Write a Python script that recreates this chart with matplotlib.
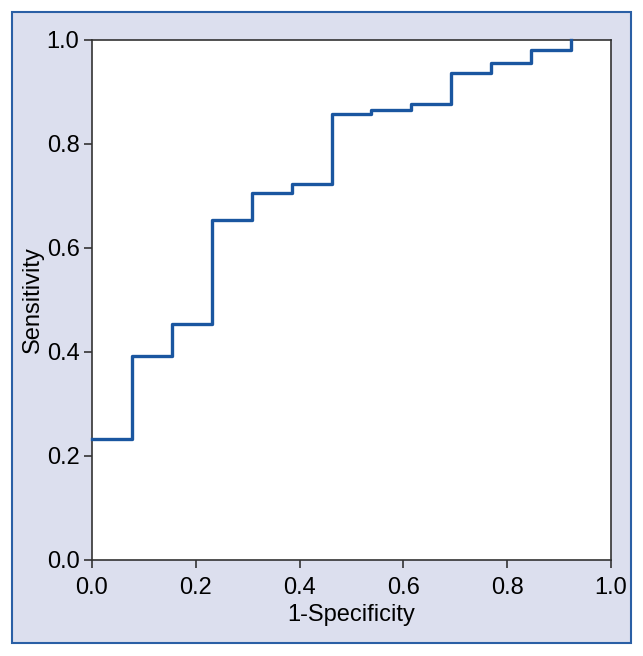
import matplotlib
matplotlib.use("Agg")
import matplotlib.pyplot as plt
from matplotlib.patches import Rectangle

fpr = [0.0, 0.077, 0.154, 0.231, 0.308, 0.385, 0.462, 0.538, 0.615, 0.692, 0.769, 0.846, 0.923]
tpr = [0.233, 0.392, 0.454, 0.654, 0.706, 0.723, 0.857, 0.865, 0.877, 0.937, 0.955, 0.980, 1.0]
ticks = [0.0, 0.2, 0.4, 0.6, 0.8, 1.0]
tick_labels = ["0.0", "0.2", "0.4", "0.6", "0.8", "1.0"]

plt.rcParams["font.family"] = ["Liberation Sans", "DejaVu Sans"]

W, H = 643, 656
fig = plt.figure(figsize=(W / 100, H / 100), dpi=100)
fig.patch.set_facecolor("white")
bg = "#dcdfee"
fig.patches.append(Rectangle((12 / W, 1 - 643 / H), (631 - 12) / W, (643 - 12) / H,
                             transform=fig.transFigure, facecolor=bg,
                             edgecolor="#2a5fa5", linewidth=1.5, zorder=-10))

ax = fig.add_axes([92 / W, 1 - 560 / H, (611 - 92) / W, (560 - 40) / H])
ax.set_zorder(5)
ax.set_facecolor("white")
ax.step(fpr, tpr, where="post", color="#1a56a0", linewidth=2.4, clip_on=False, zorder=3)
ax.set_xlim(0, 1)
ax.set_ylim(0, 1)
ax.set_xticks(ticks)
ax.set_xticklabels(tick_labels)
ax.set_yticks(ticks)
ax.set_yticklabels(tick_labels)
ax.tick_params(direction="out", length=6, width=1.2, labelsize=17, color="#333333")
ax.tick_params(axis="x", pad=6)
ax.tick_params(axis="y", pad=3)
for s in ax.spines.values():
    s.set_color("#333333")
    s.set_linewidth(1.2)
ax.set_xlabel("1-Specificity", fontsize=17, labelpad=4)
ax.set_ylabel("Sensitivity", fontsize=17, labelpad=2)

fig.savefig("out.png", dpi=100, facecolor=fig.get_facecolor())
